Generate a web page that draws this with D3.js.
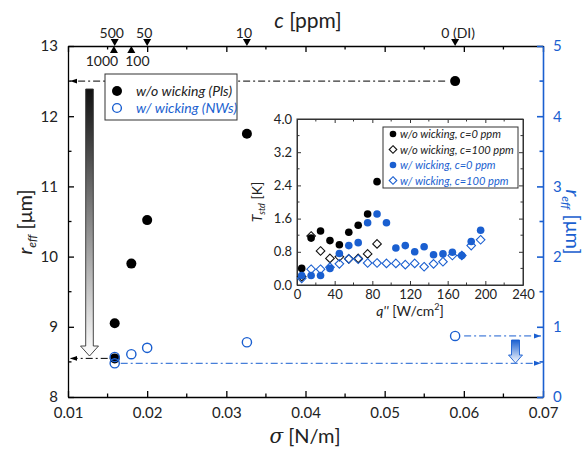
<!DOCTYPE html>
<html><head><meta charset="utf-8">
<script src="https://cdn.jsdelivr.net/npm/d3@7"></script>
<style>body{margin:0;background:#fff}svg{display:block;font-family:Lato,"Open Sans",sans-serif}</style>
</head><body><svg id="c" width="588" height="452"></svg>
<script>
// ---- Main chart data ----
const sigmaNoWick = [0.0159, 0.0159, 0.0180, 0.0200, 0.0326, 0.0589];
const rNoWick     = [9.05,   8.55,   9.90,   10.52,  11.75,  12.50];
const sigmaWick   = [0.0159, 0.0159, 0.0180, 0.0200, 0.0326, 0.0589];
const rWick       = [0.57,   0.48,   0.61,   0.70,   0.78,   0.87];
// concentration markers on top axis
const cTopLabels = ["500", "50", "10", "0 (DI)"];
const cTopSigma  = [0.0159, 0.0200, 0.0326, 0.0589];
const cBotLabels = ["1000", "100"];
const cBotSigma  = [0.0158, 0.0180];
const xTicks = [0.01, 0.02, 0.03, 0.04, 0.05, 0.06, 0.07];
const yLeftTicks = [8, 9, 10, 11, 12, 13];
const yRightTicks = [0, 1, 2, 3, 4, 5];
// ---- Inset data ----
const qA = [5, 15, 25, 35, 45, 55, 65, 75, 85];
const tNoWick0   = [0.40, 1.13, 1.30, 1.07, 0.97, 1.27, 1.44, 1.71, 2.49];
const tNoWick100 = [0.20, 1.18, 0.82, 0.64, 0.68, 0.63, 0.64, 0.75, 0.99];
const qB = [5, 15, 25, 35, 45, 55, 65, 75, 85, 95, 105, 115, 125, 135, 145, 155, 165, 175, 185, 195];
const tWick0   = [0.23, 0.23, 0.23, 0.40, 0.76, 0.95, 1.02, 1.50, 1.71, 1.50, 0.89, 0.95, 0.80, 0.92, 0.73, 0.75, 0.79, 0.71, 1.05, 1.32];
const tWick100 = [0.16, 0.38, 0.38, 0.43, 0.51, 0.63, 0.62, 0.53, 0.53, 0.52, 0.52, 0.49, 0.52, 0.44, 0.51, 0.56, 0.71, 0.71, 0.95, 1.09];
const qTicks = [0, 40, 80, 120, 160, 200, 240];
const tTicks = [0.0, 0.8, 1.6, 2.4, 3.2, 4.0];

const BLUE = "#1a5fd0";
const svg = d3.select("#c");
const defs = svg.append("defs");
function marker(id, color){
  defs.append("marker").attr("id", id).attr("viewBox","0 0 10 10").attr("refX",10).attr("refY",5)
    .attr("markerWidth",7).attr("markerHeight",7).attr("orient","auto-start-reverse")
    .append("path").attr("d","M0,1.5 L10,5 L0,8.5 Z").attr("fill",color);
}
marker("ab","#000"); marker("abl",BLUE);
const g1 = defs.append("linearGradient").attr("id","gg").attr("x1",0).attr("x2",0).attr("y1",0).attr("y2",1);
g1.append("stop").attr("offset","0%").attr("stop-color","#111");
g1.append("stop").attr("offset","100%").attr("stop-color","#fff");
const g2 = defs.append("linearGradient").attr("id","gb").attr("x1",0).attr("x2",0).attr("y1",0).attr("y2",1);
g2.append("stop").attr("offset","0%").attr("stop-color",BLUE);
g2.append("stop").attr("offset","100%").attr("stop-color","#fff");

const L=68, R=543, T=46, B=397;
const x = d3.scaleLinear().domain([0.01,0.07]).range([L,R]);
const yL = d3.scaleLinear().domain([8,13]).range([B,T]);
const yR = d3.scaleLinear().domain([0,5]).range([B,T]);

// axes
const minorX = d3.range(0.015,0.07,0.01);
const axBot = svg.append("g").attr("transform",`translate(0,${B})`)
  .call(d3.axisBottom(x).tickValues(xTicks).tickSizeInner(-6).tickSizeOuter(0).tickPadding(10).tickFormat(d3.format(".2f")));
axBot.append("g").selectAll("line").data(minorX).join("line").attr("x1",d=>x(d)).attr("x2",d=>x(d)).attr("y1",0).attr("y2",-3.5);
const axTop = svg.append("g").attr("transform",`translate(0,${T})`)
  .call(d3.axisTop(x).tickValues(xTicks).tickSizeInner(-6).tickSizeOuter(0).tickFormat(""));
axTop.append("g").selectAll("line").data(minorX).join("line").attr("x1",d=>x(d)).attr("x2",d=>x(d)).attr("y1",0).attr("y2",3.5);
const axLeft = svg.append("g").attr("transform",`translate(${L},0)`)
  .call(d3.axisLeft(yL).tickValues(yLeftTicks).tickSizeInner(-6).tickSizeOuter(0).tickPadding(10).tickFormat(d3.format("d")));
axLeft.append("g").selectAll("line").data(d3.range(8.5,13,1)).join("line").attr("y1",d=>yL(d)).attr("y2",d=>yL(d)).attr("x1",0).attr("x2",3.5);
const axRight = svg.append("g").attr("transform",`translate(${R},0)`)
  .call(d3.axisRight(yR).tickValues(yRightTicks).tickSizeInner(-6).tickSizeOuter(0).tickPadding(10).tickFormat(d3.format("d")));
axRight.append("g").selectAll("line").data(d3.range(0.5,5,1)).join("line").attr("y1",d=>yR(d)).attr("y2",d=>yR(d)).attr("x1",0).attr("x2",-3.5);
[axBot,axTop,axLeft].forEach(a=>{a.selectAll("path,line").attr("stroke","#000").attr("stroke-width",1.3);a.selectAll("text").attr("font-size",15).attr("fill","#222").attr("font-family","Lato,sans-serif");});
axRight.selectAll("path,line").attr("stroke",BLUE).attr("stroke-width",1.6);
axRight.selectAll("text").attr("font-size",15).attr("fill",BLUE).attr("font-family","Lato,sans-serif");

// axis titles
svg.append("text").attr("x",308).attr("y",28).attr("text-anchor","middle").attr("font-size",21).attr("fill","#222")
  .html('<tspan font-style="italic">c</tspan>  [ppm]');
svg.append("text").attr("x",305).attr("y",443).attr("text-anchor","middle").attr("font-size",20).attr("fill","#222")
  .html('<tspan font-style="italic" font-family="DejaVu Serif">σ</tspan> [N/m]');
svg.append("text").attr("transform","translate(32,222) rotate(-90)").attr("text-anchor","middle").attr("font-size",20).attr("fill","#222")
  .html('<tspan font-style="italic">r</tspan><tspan font-style="italic" font-size="12" dy="4">eff</tspan><tspan dy="-4"> [μm]</tspan>');
svg.append("text").attr("transform","translate(566,222) rotate(90)").attr("text-anchor","middle").attr("font-size",20).attr("fill",BLUE)
  .html('<tspan font-style="italic">r</tspan><tspan font-style="italic" font-size="12" dy="4">eff</tspan><tspan dy="-4"> [μm]</tspan>');

// top concentration markers
cTopSigma.forEach((s,i)=>{
  const px=x(s);
  svg.append("path").attr("d",`M${px-4},${T-7} L${px+4},${T-7} L${px},${T} Z`).attr("fill","#000");
  svg.append("text").attr("x",px+(i===3?3:-3)).attr("y",T-8).attr("text-anchor","middle").attr("font-size",14).attr("fill","#222").text(cTopLabels[i]);
});
cBotSigma.forEach((s,i)=>{
  const px=x(s);
  svg.append("path").attr("d",`M${px-4},${T+7} L${px+4},${T+7} L${px},${T} Z`).attr("fill","#000");
  svg.append("text").attr("x",px+(i===0?-12:6)).attr("y",T+20).attr("text-anchor","middle").attr("font-size",14).attr("fill","#222").text(cBotLabels[i]);
});

// dash-dot guide arrows
const dd="7,3,2,3";
svg.append("line").attr("x1",x(sigmaNoWick[5])-10).attr("x2",L+2).attr("y1",yL(rNoWick[5])).attr("y2",yL(rNoWick[5]))
  .attr("stroke","#000").attr("stroke-dasharray",dd).attr("marker-end","url(#ab)");
svg.append("line").attr("x1",x(sigmaNoWick[1])-7).attr("x2",L+2).attr("y1",yL(rNoWick[1])).attr("y2",yL(rNoWick[1]))
  .attr("stroke","#000").attr("stroke-dasharray",dd).attr("marker-end","url(#ab)");
svg.append("line").attr("x1",x(sigmaWick[5])+9).attr("x2",R-2).attr("y1",yR(rWick[5])).attr("y2",yR(rWick[5]))
  .attr("stroke",BLUE).attr("stroke-dasharray",dd).attr("marker-end","url(#abl)");
svg.append("line").attr("x1",x(sigmaWick[1])+6).attr("x2",R-2).attr("y1",yR(rWick[1])).attr("y2",yR(rWick[1]))
  .attr("stroke",BLUE).attr("stroke-dasharray",dd).attr("marker-end","url(#abl)");

// gradient arrows
function garrow(cx, y0, y1, hw, headH, headW, fill, stroke){
  svg.append("path").attr("d",`M${cx-hw},${y0} L${cx+hw},${y0} L${cx+hw},${y1-headH} L${cx+headW},${y1-headH} L${cx},${y1} L${cx-headW},${y1-headH} L${cx-hw},${y1-headH} Z`)
    .attr("fill",fill).attr("stroke",stroke).attr("stroke-width",0.9);
}
garrow(89.5, 89, 356, 3.8, 10, 9, "url(#gg)", "#333");
garrow(515.5, 340, 363, 4, 8, 7, "url(#gb)", BLUE);

// points
svg.append("g").selectAll("circle").data(sigmaNoWick).join("circle")
  .attr("cx",d=>x(d)).attr("cy",(d,i)=>yL(rNoWick[i])).attr("r",5).attr("fill","#000");
svg.append("g").selectAll("circle").data(sigmaWick).join("circle")
  .attr("cx",d=>x(d)).attr("cy",(d,i)=>yR(rWick[i])).attr("r",4.6).attr("fill","none").attr("stroke",BLUE).attr("stroke-width",1.4);

// main legend
const lg = svg.append("g");
lg.append("rect").attr("x",105).attr("y",74).attr("width",132).attr("height",46).attr("fill","#fff").attr("stroke","#333").attr("stroke-width",1);
lg.append("circle").attr("cx",117).attr("cy",91).attr("r",5).attr("fill","#000");
lg.append("circle").attr("cx",117).attr("cy",108).attr("r",4.4).attr("fill","none").attr("stroke",BLUE).attr("stroke-width",1.4);
lg.append("text").attr("x",136).attr("y",96).attr("font-size",14).attr("font-style","italic").attr("fill","#222").text("w/o wicking (Pls)");
lg.append("text").attr("x",136).attr("y",113).attr("font-size",14).attr("font-style","italic").attr("fill",BLUE).text("w/ wicking (NWs)");

// ---- inset ----
const iL=297, iR=523, iT=119, iB=285;
const xi = d3.scaleLinear().domain([0,240]).range([iL,iR]);
const yi = d3.scaleLinear().domain([0,4]).range([iB,iT]);
const ig = svg.append("g");
ig.append("rect").attr("x",iL).attr("y",iT).attr("width",iR-iL).attr("height",iB-iT).attr("fill","#fff").attr("stroke","#333").attr("stroke-width",1);
const ib = ig.append("g").attr("transform",`translate(0,${iB})`).call(d3.axisBottom(xi).tickValues(qTicks).tickSizeInner(-4).tickSizeOuter(0).tickPadding(5).tickFormat(d3.format("d")));
const il = ig.append("g").attr("transform",`translate(${iL},0)`).call(d3.axisLeft(yi).tickValues(tTicks).tickSizeInner(-4).tickSizeOuter(0).tickPadding(5).tickFormat(d3.format(".1f")));
const it = ig.append("g").attr("transform",`translate(0,${iT})`).call(d3.axisTop(xi).tickValues(qTicks).tickSizeInner(-4).tickSizeOuter(0).tickFormat(""));
const ir = ig.append("g").attr("transform",`translate(${iR},0)`).call(d3.axisRight(yi).tickValues(tTicks).tickSizeInner(-4).tickSizeOuter(0).tickFormat(""));
[ib,il,it,ir].forEach(a=>{a.selectAll("path,line").attr("stroke","#333");a.selectAll("text").attr("font-size",13).attr("fill","#222").attr("font-family","Lato,sans-serif");});
const mq = d3.range(20,240,40), mt = d3.range(0.4,4,0.8);
ig.append("g").selectAll("line").data(mq).join("line").attr("x1",d=>xi(d)).attr("x2",d=>xi(d)).attr("y1",iB).attr("y2",iB-2.5).attr("stroke","#333");
ig.append("g").selectAll("line").data(mq).join("line").attr("x1",d=>xi(d)).attr("x2",d=>xi(d)).attr("y1",iT).attr("y2",iT+2.5).attr("stroke","#333");
ig.append("g").selectAll("line").data(mt).join("line").attr("y1",d=>yi(d)).attr("y2",d=>yi(d)).attr("x1",iL).attr("x2",iL+2.5).attr("stroke","#333");
ig.append("g").selectAll("line").data(mt).join("line").attr("y1",d=>yi(d)).attr("y2",d=>yi(d)).attr("x1",iR).attr("x2",iR-2.5).attr("stroke","#333");
ig.append("text").attr("transform","translate(262,202) rotate(-90)").attr("text-anchor","middle").attr("font-size",14).attr("fill","#222")
  .html('<tspan font-style="italic">T</tspan><tspan font-style="italic" font-size="9" dy="3">std</tspan><tspan dy="-3"> [K]</tspan>');
ig.append("text").attr("x",410).attr("y",316).attr("text-anchor","middle").attr("font-size",14).attr("fill","#222")
  .html('<tspan font-style="italic">q\'\'</tspan> [W/cm<tspan font-size="9" dy="-6">2</tspan><tspan dy="6">]</tspan>');

const dia = (cx,cy,s)=>`M${cx},${cy-s} L${cx+s},${cy} L${cx},${cy+s} L${cx-s},${cy} Z`;
ig.append("g").selectAll("path").data(qA).join("path").attr("d",(d,i)=>dia(xi(d),yi(tNoWick100[i]),4.3)).attr("fill","none").attr("stroke","#111").attr("stroke-width",1.1);
ig.append("g").selectAll("path").data(qB).join("path").attr("d",(d,i)=>dia(xi(d),yi(tWick100[i]),4.3)).attr("fill","none").attr("stroke",BLUE).attr("stroke-width",1.1);
ig.append("g").selectAll("circle").data(qA).join("circle").attr("cx",d=>xi(d)).attr("cy",(d,i)=>yi(tNoWick0[i])).attr("r",3.8).attr("fill","#000");
ig.append("g").selectAll("circle").data(qB).join("circle").attr("cx",d=>xi(d)).attr("cy",(d,i)=>yi(tWick0[i])).attr("r",3.8).attr("fill",BLUE);

// inset legend
const il2 = ig.append("g");
il2.append("rect").attr("x",383).attr("y",127).attr("width",135).attr("height",61).attr("fill","#fff").attr("stroke","#333").attr("stroke-width",1);
const ly=[134,149.5,165,180.5];
il2.append("circle").attr("cx",393).attr("cy",ly[0]).attr("r",3.3).attr("fill","#000");
il2.append("path").attr("d",dia(393,ly[1],3.8)).attr("fill","none").attr("stroke","#111").attr("stroke-width",1.1);
il2.append("circle").attr("cx",393).attr("cy",ly[2]).attr("r",3.3).attr("fill",BLUE);
il2.append("path").attr("d",dia(393,ly[3],3.8)).attr("fill","none").attr("stroke",BLUE).attr("stroke-width",1.1);
const ltx=["w/o wicking, c=0 ppm","w/o wicking, c=100 ppm","w/ wicking, c=0 ppm","w/ wicking, c=100 ppm"];
ltx.forEach((t,i)=>il2.append("text").attr("x",400).attr("y",ly[i]+4).attr("font-size",11.1).attr("font-style","italic").attr("fill",i<2?"#222":BLUE).text(t));
</script></body></html>
